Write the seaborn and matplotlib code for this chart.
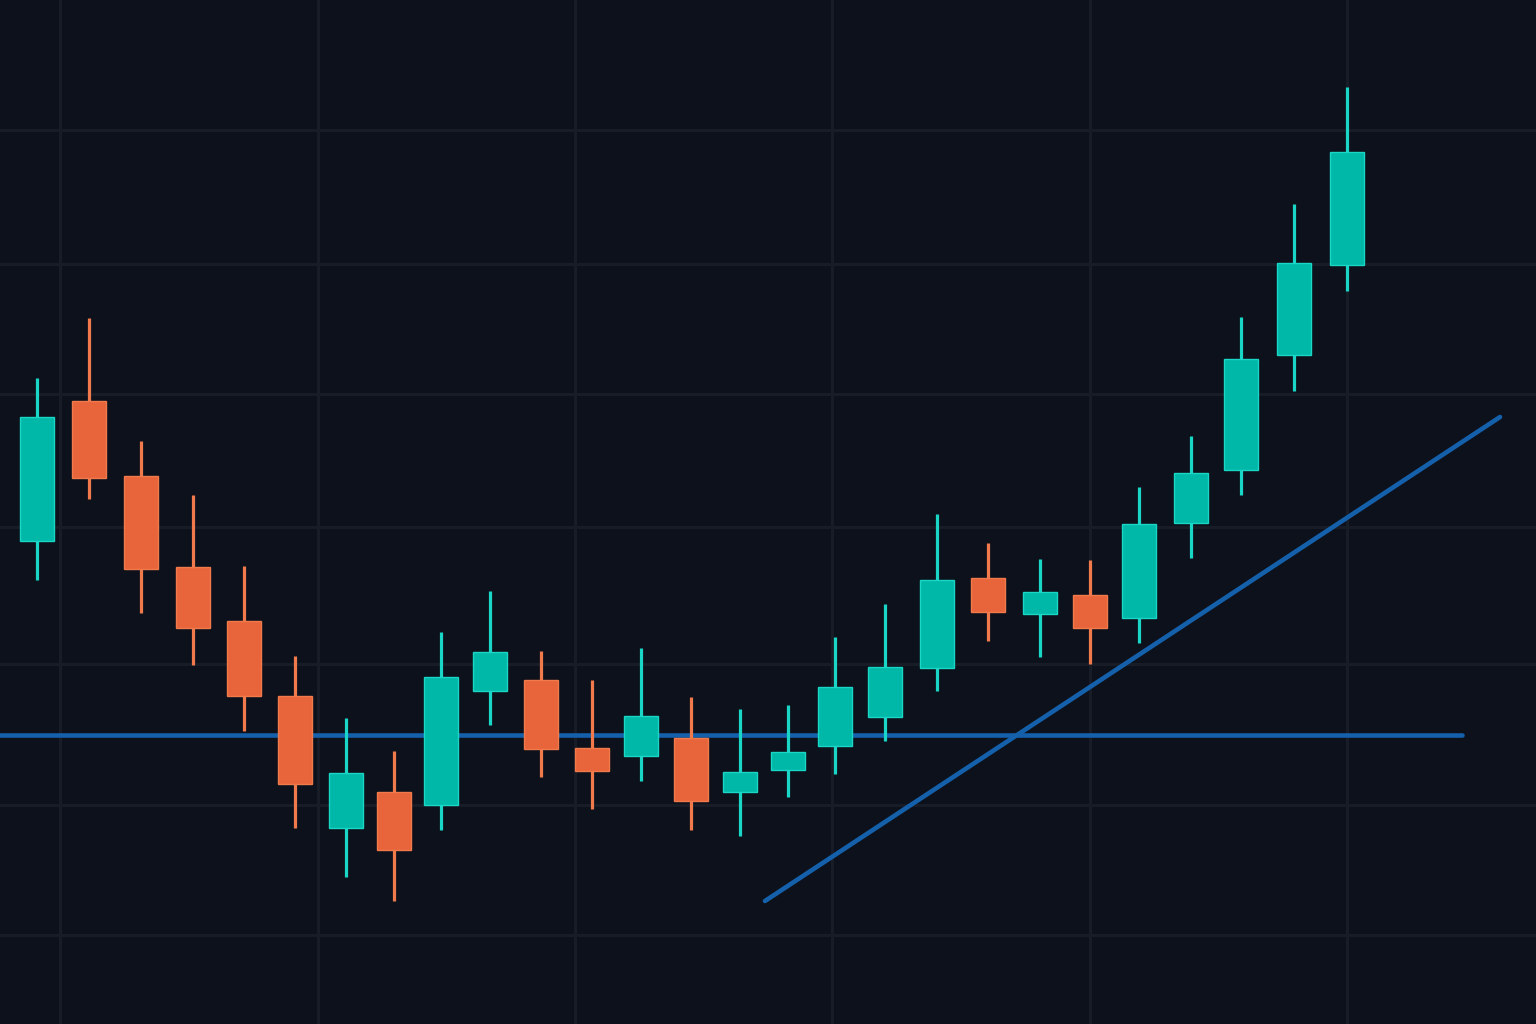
import numpy as np
import pandas as pd
import matplotlib
matplotlib.use("Agg")
import matplotlib.pyplot as plt
import seaborn as sns

# session positions (slightly uneven spacing, as in the picture)
xpos = [0.0, 1.032, 2.064, 3.097, 4.109, 5.121, 6.133, 7.086, 8.019, 8.992, 10.004, 11.016, 11.989,
        12.981, 13.954, 14.907, 15.84, 16.832, 17.864, 18.876, 19.909, 20.901, 21.874, 22.906,
        23.898, 24.95, 26.002]
# OHLC values (arbitrary price units)
opens  = [48.3, 62.3, 54.8, 45.7, 40.3, 32.8, 19.6, 23.2, 21.9, 33.3, 34.4, 27.6, 26.8, 28.6,
          23.2, 25.4, 27.8, 30.7, 35.6, 44.6, 41.0, 42.9, 40.6, 50.1, 55.4, 66.9, 75.9]
highs  = [64.6, 70.6, 58.3, 52.9, 45.8, 36.8, 30.6, 27.3, 39.2, 43.3, 37.3, 34.4, 37.6, 32.7,
          31.5, 31.9, 38.7, 42.0, 51.0, 48.1, 46.5, 46.4, 53.7, 58.8, 70.7, 82.0, 93.7]
lows   = [44.4, 52.5, 41.1, 35.9, 29.3, 19.6, 14.7, 12.3, 19.4, 29.9, 24.7, 21.5, 24.3, 19.4,
          18.8, 22.7, 25.0, 28.3, 33.3, 38.3, 36.7, 36.0, 38.1, 46.6, 52.9, 63.3, 73.3]
closes = [60.7, 54.6, 45.5, 39.6, 32.8, 24.0, 25.1, 17.4, 34.7, 37.2, 27.5, 25.3, 30.8, 22.3,
          25.2, 27.2, 33.7, 35.7, 44.4, 41.2, 43.2, 39.6, 50.0, 55.1, 66.5, 76.1, 87.2]

# support level and rising trendline
support_level = 28.9
support_end = 28.29
trend_x = [14.45, 29.04]
trend_y = [12.3, 60.7]

# grid levels
grid_x = [0.457, 5.57, 10.68, 15.79, 20.9, 26.01]
grid_y = [8.9, 21.9, 36.0, 49.7, 63.0, 76.0, 89.4]

bg = "#0c111b"
grid_col = "#171c26"
up_col, up_edge = "#00b8a8", "#1ad6c6"
dn_col, dn_edge = "#e8643a", "#f07a4c"
line_col = "#1560aa"

sns.set_theme(style="dark", rc={"axes.facecolor": bg, "figure.facecolor": bg,
                                "grid.color": grid_col, "grid.linewidth": 2.0})

df = pd.DataFrame({"x": xpos, "open": opens, "high": highs, "low": lows, "close": closes})
df["up"] = df["close"] >= df["open"]

fig = plt.figure(figsize=(15.36, 10.24), dpi=100)
ax = fig.add_axes([0, 0, 1, 1])
ax.set_xlim(-0.734, 29.754)
ax.set_ylim(0, 102.4)
ax.set_xticks(grid_x)
ax.set_yticks(grid_y)
ax.grid(True, color=grid_col, linewidth=2.2)
ax.tick_params(length=0, labelbottom=False, labelleft=False)
for s in ax.spines.values():
    s.set_visible(False)
ax.set_axisbelow(True)

# trend lines (drawn under the candles)
ax.plot([-1, support_end], [support_level, support_level], color=line_col,
        linewidth=3.3, solid_capstyle="round", zorder=2)
trend = pd.DataFrame({"x": trend_x, "y": trend_y})
sns.lineplot(data=trend, x="x", y="y", ax=ax, color=line_col, linewidth=3.3,
             solid_capstyle="round", zorder=2)
ax.set_xlabel("")
ax.set_ylabel("")

for up, col, edge in [(True, up_col, up_edge), (False, dn_col, dn_edge)]:
    sub = df[df["up"] == up]
    ax.vlines(sub["x"], sub["low"], sub["high"], color=edge, linewidth=2.3, zorder=3)
    body_lo = sub[["open", "close"]].min(axis=1)
    body_h = (sub["close"] - sub["open"]).abs()
    ax.bar(sub["x"], body_h, bottom=body_lo, width=0.675, color=col,
           edgecolor=edge, linewidth=1.0, zorder=4)

fig.savefig("out.png", dpi=100, facecolor=bg)
